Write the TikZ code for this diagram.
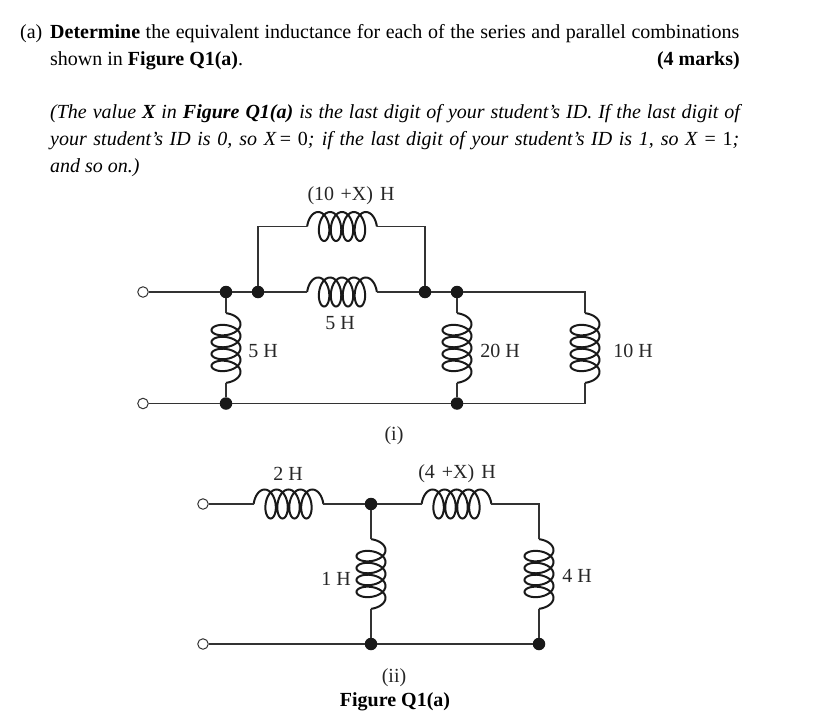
\documentclass[tikz,border=0pt]{standalone}
\usepackage{fontspec}
\setmainfont{Liberation Serif}
\newcommand{\txtsize}{\fontsize{20}{24}\selectfont}
\tikzset{
  x=1pt,y=-1pt,
  wire/.style={line width=1.4pt,draw=black!80},
  coilline/.style={line width=2pt,draw=black!90},
  opent/.style={circle,draw=black!80,fill=white,line width=1pt,minimum size=10.5pt,inner sep=0pt},
  dotn/.style={circle,fill=black!90,minimum size=12.5pt,inner sep=0pt},
  txt/.style={inner sep=0pt,anchor=base west,font=\txtsize},
  lbl/.style={inner sep=0pt,font=\txtsize,text=black!85},
  coilh/.pic={
    \draw[coilline] plot[domain=-810:810,samples=145,smooth] ({1.9*rad(\x)+8*sin(\x)},{-14.5*cos(\x)});
    \coordinate (-a) at (-34.86,0);
    \coordinate (-b) at (34.86,0);
  },
  coilv/.pic={
    \draw[coilline] plot[domain=-810:810,samples=145,smooth] ({14.5*cos(\x)},{1.9*rad(\x)+8*sin(\x)});
    \coordinate (-a) at (0,-34.86);
    \coordinate (-b) at (0,34.86);
  }
}
\begin{document}
\begin{tikzpicture}
\useasboundingbox (0,0) rectangle (825,717);
% question text
\node[txt] (ta) at (20,38.5) {(a)};
\node[txt] (t1) at (50,38.5) {\makebox[689pt][s]{\textbf{Determine} the equivalent inductance for each of the series and parallel combinations}};
\node[txt] (t2) at (50,65.5) {shown in \textbf{Figure Q1(a)}.};
\node[txt,anchor=base east] (tm) at (740,65.5) {\textbf{(4 marks)}};
\node[txt] (t3) at (50,118.5) {\makebox[692pt][s]{\textit{(The value \textbf{X} in \textbf{Figure Q1(a)} is the last digit of your student’s ID. If the last digit of}}};
\node[txt] (t4) at (50,145.5) {\makebox[689pt][s]{\textit{your student’s ID is 0, so X}\,= 0\textit{; if the last digit of your student’s ID is 1, so X} = 1\textit{;}}};
\node[txt] (t5) at (50,172.5) {\textit{and so on.)}};
% circuit (i)
\node[opent] (a1) at (143,292) {};
\node[opent] (a2) at (143,403.5) {};
\node[dotn] (n1) at (226,292) {};
\node[dotn] (n2) at (258,292) {};
\node[dotn] (n3) at (425,292) {};
\node[dotn] (n4) at (457,292) {};
\node[dotn] (n5) at (226,403.5) {};
\node[dotn] (n6) at (457,403.5) {};
\pic (c1) at (342,226.5) {coilh};
\pic (c2) at (342,292) {coilh};
\pic (c3) at (226,348) {coilv};
\pic (c4) at (457,348) {coilv};
\pic (c5) at (585,348) {coilv};
\draw[wire] (a1) -- (n1);
\draw[wire] (n1) -- (n2);
\draw[wire] (n2) -- (c2-a);
\draw[wire] (c2-b) -- (n3);
\draw[wire] (n3) -- (n4);
\draw[wire] (n2) |- (c1-a);
\draw[wire] (c1-b) -| (n3);
\draw[wire] (n4) -| (c5-a);
\draw[wire] (c5-b) |- (n6);
\draw[wire] (n1) -- (c3-a);
\draw[wire] (c3-b) -- (n5);
\draw[wire] (n4) -- (c4-a);
\draw[wire] (c4-b) -- (n6);
\draw[wire] (a2) -- (n5);
\draw[wire] (n5) -- (n6);
\node[lbl] (l1) at (351,196) {(10\kern1.5pt{} +X)\kern2pt{} H};
\node[lbl] (l2) at (340,323) {5 H};
\node[lbl] (l3) at (263,351) {5 H};
\node[lbl] (l4) at (500,351) {20 H};
\node[lbl] (l5) at (633,351) {10 H};
\node[lbl] (l6) at (394,436) {(i)};
% circuit (ii)
\node[opent] (b1) at (203,504) {};
\node[opent] (b2) at (203,644) {};
\node[dotn] (m1) at (371,504) {};
\node[dotn] (m2) at (371,644) {};
\node[dotn] (m3) at (539,644) {};
\pic (d1) at (288.5,504) {coilh};
\pic (d2) at (456.5,504) {coilh};
\pic (d3) at (371,574) {coilv};
\pic (d4) at (539,574) {coilv};
\draw[wire] (b1) -- (d1-a);
\draw[wire] (d1-b) -- (m1);
\draw[wire] (m1) -- (d2-a);
\draw[wire] (d2-b) -| (d4-a);
\draw[wire] (m1) -- (d3-a);
\draw[wire] (d3-b) -- (m2);
\draw[wire] (d4-b) -- (m3);
\draw[wire] (b2) -- (m2);
\draw[wire] (m2) -- (m3);
\node[lbl] (k1) at (288,474) {2 H};
\node[lbl] (k2) at (457,474) {(4\kern2pt{} +X)\kern2pt{} H};
\node[lbl] (k3) at (336,579) {1 H};
\node[lbl] (k4) at (577,576) {4 H};
\node[lbl] (k5) at (394,678) {(ii)};
\node[lbl,font=\txtsize\bfseries,text=black] (k6) at (395,702) {Figure Q1(a)};
\end{tikzpicture}
\end{document}
